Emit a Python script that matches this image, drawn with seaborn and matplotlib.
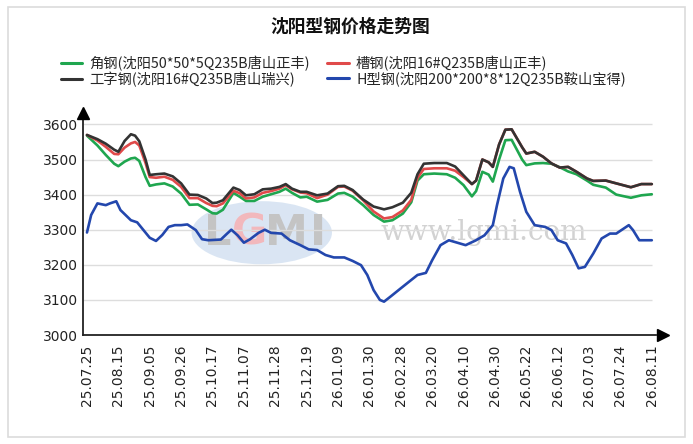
import numpy as np
import pandas as pd
import matplotlib
matplotlib.use("Agg")
import matplotlib.pyplot as plt
from matplotlib.lines import Line2D
from matplotlib.patches import Ellipse, Rectangle
import seaborn as sns

# ---------------- data ----------------
tick_labels = ["25.07.25", "25.08.15", "25.09.05", "25.09.26", "25.10.17", "25.11.07",
               "25.11.28", "25.12.19", "26.01.09", "26.01.30", "26.02.28", "26.03.20",
               "26.04.10", "26.04.30", "26.05.22", "26.06.12", "26.07.03", "26.07.24",
               "26.08.11"]
tick_days = [i * 15 for i in range(len(tick_labels))]

series_names = ["角钢(沈阳50*50*5Q235B唐山正丰)", "槽钢(沈阳16#Q235B唐山正丰)",
                "工字钢(沈阳16#Q235B唐山瑞兴)", "H型钢(沈阳200*200*8*12Q235B鞍山宝得)"]

days = [0, 5, 9, 13, 15, 18, 21, 23, 25, 28, 30, 33, 37, 41, 45, 49, 53, 57, 60, 62,
        65, 70, 73, 76, 80, 84, 88, 92, 95, 98, 102, 105, 110, 115, 120, 123, 127, 132,
        137, 142, 146, 151, 155, 158, 161, 166, 172, 176, 180, 184, 186, 189, 192, 194,
        197, 200, 203, 208, 210, 214, 218, 222, 226, 230, 234, 239, 242, 248, 253, 260,
        265, 270]

angle_steel = [3568, 3540, 3513, 3488, 3481, 3494, 3503, 3505, 3496, 3450, 3425, 3429,
               3432, 3423, 3403, 3371, 3372, 3358, 3347, 3346, 3357, 3405, 3394, 3382,
               3382, 3394, 3401, 3408, 3417, 3405, 3392, 3394, 3380, 3385, 3403, 3405,
               3394, 3370, 3342, 3323, 3327, 3346, 3378, 3440, 3458, 3460, 3458, 3448,
               3427, 3395, 3410, 3465, 3457, 3437, 3500, 3555, 3556, 3500, 3484, 3489,
               3490, 3488, 3478, 3466, 3458, 3440, 3428, 3420, 3400, 3391, 3398, 3401]

channel_steel = [3570, 3554, 3536, 3516, 3515, 3534, 3546, 3550, 3540, 3490, 3450, 3448,
                 3451, 3442, 3422, 3390, 3390, 3376, 3368, 3367, 3375, 3411, 3404, 3389,
                 3392, 3405, 3410, 3417, 3427, 3415, 3406, 3404, 3390, 3400, 3422, 3423,
                 3411, 3384, 3352, 3332, 3336, 3355, 3385, 3448, 3473, 3475, 3475, 3468,
                 3450, 3430, 3440, 3500, 3492, 3479, 3543, 3585, 3586, 3535, 3517, 3522,
                 3508, 3489, 3477, 3479, 3465, 3446, 3439, 3440, 3432, 3421, 3430, 3430]

i_beam = [3570, 3558, 3545, 3528, 3522, 3553, 3572, 3568, 3552, 3500, 3456, 3458,
          3460, 3452, 3432, 3400, 3399, 3389, 3376, 3377, 3384, 3420, 3413, 3398,
          3401, 3415, 3417, 3422, 3430, 3417, 3408, 3408, 3398, 3403, 3424, 3425,
          3413, 3386, 3366, 3358, 3364, 3377, 3405, 3458, 3488, 3490, 3490, 3480,
          3455, 3430, 3440, 3500, 3492, 3479, 3543, 3585, 3586, 3535, 3517, 3522,
          3508, 3489, 3477, 3479, 3465, 3446, 3439, 3440, 3432, 3421, 3430, 3430]

h_days = [0, 2, 5, 9, 11, 14, 16, 21, 24, 27, 30, 33, 36, 39, 42, 45, 48, 52, 55, 58,
          64, 67, 69, 72, 75, 78, 82, 85, 88, 93, 97, 102, 106, 110, 114, 118, 123, 127,
          131, 134, 137, 140, 142, 145, 150, 154, 158, 162, 165, 169, 173, 177, 181, 186,
          190, 194, 196, 199, 202, 204, 207, 210, 214, 219, 222, 225, 229, 232, 235, 238,
          242, 246, 250, 253, 259, 261, 264, 270]
h_beam = [3292, 3342, 3375, 3370, 3375, 3381, 3356, 3327, 3321, 3299, 3277, 3268,
          3285, 3308, 3313, 3313, 3315, 3299, 3273, 3270, 3272, 3289, 3300, 3284,
          3263, 3273, 3291, 3300, 3291, 3289, 3270, 3256, 3244, 3242, 3228, 3221,
          3221, 3211, 3199, 3171, 3128, 3100, 3095, 3109, 3133, 3152, 3171, 3177,
          3213, 3256, 3270, 3263, 3256, 3270, 3284, 3313, 3370, 3446, 3479, 3475,
          3408, 3351, 3313, 3308, 3299, 3270, 3261, 3228, 3190, 3194, 3232, 3275,
          3289, 3289, 3313, 3299, 3270, 3270]

y_ticks = [3000, 3100, 3200, 3300, 3400, 3500, 3600]
colors = ["#1fa64f", "#e04a4a", "#333333", "#2347ad"]

# ---------------- frame ----------------
df = pd.concat([
    pd.DataFrame({"day": days, "price": angle_steel, "series": series_names[0]}),
    pd.DataFrame({"day": days, "price": channel_steel, "series": series_names[1]}),
    pd.DataFrame({"day": days, "price": i_beam, "series": series_names[2]}),
    pd.DataFrame({"day": h_days, "price": h_beam, "series": series_names[3]}),
], ignore_index=True)

sns.set_theme(style="white")
plt.rcParams["font.family"] = ["DejaVu Sans", "Noto Sans CJK SC"]
plt.rcParams["axes.unicode_minus"] = False

W, H = 693, 444
fig = plt.figure(figsize=(W / 100, H / 100), dpi=100)
fig.patch.set_facecolor("white")

# outer border
fig.patches.append(Rectangle((8 / W, 1 - 437 / H), (685 - 8) / W, (437 - 7) / H,
                             transform=fig.transFigure, fill=False,
                             ec="#dcdcdc", lw=1.2))

ax_l, ax_r, ax_b, ax_t = 83, 656, 335, 117.4
ax = fig.add_axes([ax_l / W, 1 - ax_b / H, (ax_r - ax_l) / W, (ax_b - ax_t) / H])
ax.set_facecolor("white")

# watermark
ax.add_patch(Ellipse((0.312, 0.47), 0.245, 0.29, transform=ax.transAxes,
                     fc="#d6e3f2", ec="none", alpha=0.9, zorder=0))
for ch, xx, cc in [("L", 0.235, "#c4c4c4"), ("G", 0.29, "#f2b8bc"),
                   ("M", 0.355, "#c4c4c4"), ("I", 0.41, "#c4c4c4")]:
    ax.text(xx, 0.47, ch, transform=ax.transAxes, ha="center", va="center",
            fontsize=31, fontweight="bold", color=cc, zorder=0.5,
            family="DejaVu Sans")
ax.text(0.70, 0.47, "www.lgmi.com", transform=ax.transAxes, ha="center",
        va="center", fontsize=20, color="#d2d2d2", family="DejaVu Serif", zorder=0.5)

# gridlines
ax.hlines(y_ticks[1:], -1.9, 270, color="#dddddd", lw=1, zorder=1)

sns.lineplot(data=df, x="day", y="price", hue="series", hue_order=series_names,
             palette=colors, estimator=None, sort=False, lw=1.9, legend=False,
             ax=ax, zorder=3)

ax.set_xlim(-1.9, 272)
ax.set_ylim(3000, 3620)
ax.set_xticks(tick_days)
ax.set_xticklabels(tick_labels, rotation=90, fontsize=10, color="#222222")
ax.set_yticks(y_ticks)
ax.set_yticklabels([str(v) for v in y_ticks], fontsize=10, color="#222222")
ax.tick_params(axis="x", direction="out", length=4, width=0.8, color="#bbbbbb", pad=3)
ax.tick_params(axis="y", direction="out", length=2.5, width=0.8, color="#999999", pad=1)
ax.set_xlabel("")
ax.set_ylabel("")
for s in ["top", "right"]:
    ax.spines[s].set_visible(False)
for s in ["left", "bottom"]:
    ax.spines[s].set_color("#222222")
    ax.spines[s].set_linewidth(1.3)

# axis arrows
ax.plot([1.012], [0], marker=">", color="black", markersize=9, transform=ax.transAxes,
        clip_on=False, zorder=5)
ax.plot([0], [1.02], marker="^", color="black", markersize=9, transform=ax.transAxes,
        clip_on=False, zorder=5)

# title
fig.text(0.5 + 4 / W, 1 - 27 / H, "沈阳型钢价格走势图", ha="center", va="center",
         fontsize=12.8, fontweight="bold", family=["Noto Sans CJK SC"], color="#111111")

# legend
order = [0, 2, 1, 3]
handles = [Line2D([0], [0], color=colors[i], lw=2.2) for i in order]
labels = [series_names[i] for i in order]
fig.legend(handles, labels, ncol=2, loc="upper left",
           bbox_to_anchor=(61 / W, 1 - 56 / H), frameon=False,
           prop={"family": ["Noto Sans CJK SC"], "size": 10.3},
           handlelength=1.5, handletextpad=0.5, columnspacing=1.2,
           labelspacing=0.02, borderpad=0, borderaxespad=0)

fig.savefig("out.png", dpi=100, facecolor="white")
